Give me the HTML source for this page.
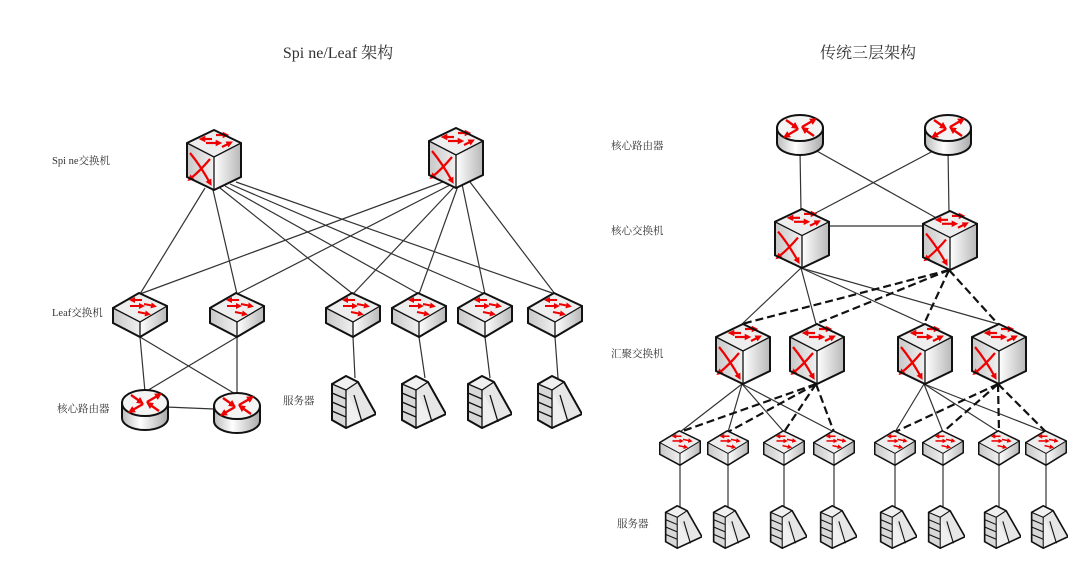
<!DOCTYPE html>
<html><head><meta charset="utf-8"><style>
html,body{margin:0;padding:0;background:#fff;}
svg{display:block;}
text{font-family:"Liberation Serif","Noto Serif CJK SC",serif;fill:#333;}
</style></head><body>
<svg width="1080" height="567" viewBox="0 0 1080 567" xmlns="http://www.w3.org/2000/svg">
<defs>
<linearGradient id="gr" x1="0" x2="1" y1="0" y2="0"><stop offset="0" stop-color="#fff"/><stop offset="1" stop-color="#b8b8b8"/></linearGradient>
<linearGradient id="gl" x1="0" x2="1" y1="0" y2="0"><stop offset="0" stop-color="#c8c8c8"/><stop offset="1" stop-color="#f0f0f0"/></linearGradient>
<linearGradient id="gc" x1="0" x2="1" y1="0" y2="0"><stop offset="0" stop-color="#bbb"/><stop offset="0.4" stop-color="#fff"/><stop offset="1" stop-color="#aaa"/></linearGradient>
<marker id="ah" viewBox="0 0 6 6" refX="3" refY="3" markerWidth="3" markerHeight="3" orient="auto"><path d="M0,0L6,3L0,6z" fill="#e00"/></marker>
<symbol id="cube" viewBox="0 0 56 62" preserveAspectRatio="none">
<polygon points="28,1 55,14 28,28 1,14" fill="#eee"/>
<polygon points="1,14 28,28 28,61 1,48" fill="url(#gl)"/>
<polygon points="28,28 55,14 55,48 28,61" fill="url(#gr)"/>
<g stroke="#e00" stroke-width="2.2" fill="none" marker-end="url(#ah)">
<line x1="26" y1="10" x2="16" y2="10"/><line x1="20" y1="14" x2="33" y2="14"/><line x1="30" y1="6" x2="40" y2="6"/><line x1="36" y1="18" x2="44" y2="14"/>
<path d="M4,24 Q14,36 24,54"/><path d="M24,30 Q14,42 4,50"/>
</g>
<polygon points="28,1 55,14 55,48 28,61 1,48 1,14" fill="none" stroke="#111" stroke-width="2"/>
<polyline points="1,14 28,28 55,14" fill="none" stroke="#111" stroke-width="1.3"/><line x1="28" y1="28" x2="28" y2="61" stroke="#111" stroke-width="1.3"/>
</symbol>
<symbol id="flat" viewBox="0 0 56 46" preserveAspectRatio="none">
<polygon points="27,1 55,14 28,30 1,16" fill="#eee"/>
<polygon points="1,16 28,30 28,45 1,31" fill="url(#gl)"/>
<polygon points="28,30 55,14 55,29 28,45" fill="url(#gr)"/>
<g stroke="#e00" stroke-width="2" fill="none" marker-end="url(#ah)">
<line x1="30" y1="8" x2="20" y2="8"/><line x1="18" y1="14" x2="30" y2="14"/><line x1="32" y1="12" x2="42" y2="14"/><line x1="26" y1="20" x2="36" y2="22"/>
</g>
<polygon points="27,1 55,14 55,29 28,45 1,31 1,16" fill="none" stroke="#111" stroke-width="2"/>
<polyline points="1,16 28,30 55,14" fill="none" stroke="#111" stroke-width="1.3"/><line x1="28" y1="30" x2="28" y2="45" stroke="#111" stroke-width="1.3"/>
</symbol>
<symbol id="router" viewBox="0 0 48 44" preserveAspectRatio="none">
<path d="M1,15 L1,30 A23,12 0 0 0 47,30 L47,15 Z" fill="url(#gc)" stroke="#111" stroke-width="2"/>
<ellipse cx="24" cy="15" rx="23" ry="13" fill="#f4f4f4" stroke="#111" stroke-width="2"/>
<g stroke="#e00" stroke-width="2.4" fill="none" marker-end="url(#ah)">
<line x1="10" y1="7" x2="20" y2="14"/><line x1="38" y1="23" x2="28" y2="16"/><line x1="26" y1="14" x2="38" y2="7"/><line x1="22" y1="16" x2="10" y2="23"/>
</g>
</symbol>
<symbol id="server" viewBox="0 0 46 54" preserveAspectRatio="none">
<polygon points="2,9 16,1 28,7 46,39 16,53 2,45" fill="#f0f0f0"/>
<polygon points="16,15 28,7 46,39 32,47" fill="#e6e6e6"/>
<polygon points="2,9 16,15 16,53 2,45" fill="#d8d8d8"/>
<g stroke="#111" stroke-width="1.3" fill="none">
<line x1="2" y1="18" x2="16" y2="24"/><line x1="2" y1="27" x2="16" y2="33"/><line x1="2" y1="36" x2="16" y2="42"/>
<polyline points="2,9 16,15 28,7"/><line x1="16" y1="15" x2="16" y2="53"/><line x1="24" y1="20" x2="32" y2="47"/>
</g>
<polygon points="2,9 16,1 28,7 46,39 16,53 2,45" fill="none" stroke="#111" stroke-width="2"/>
</symbol>
</defs>

<text x="338" y="58" font-size="16" text-anchor="middle">Spi ne/Leaf 架构</text>
<text x="868" y="58" font-size="16" text-anchor="middle">传统三层架构</text>
<g font-size="10.5">
<text x="52" y="164">Spi ne交换机</text>
<text x="52" y="316">Leaf交换机</text>
<text x="57" y="412">核心路由器</text>
<text x="283" y="404">服务器</text>
<text x="611" y="149">核心路由器</text>
<text x="611" y="234">核心交换机</text>
<text x="611" y="357">汇聚交换机</text>
<text x="617" y="527">服务器</text>
</g>

<g stroke="#333" stroke-width="1.2" fill="none">
<line x1="205" y1="188" x2="140" y2="294"/><line x1="213" y1="190" x2="237" y2="294"/>
<line x1="220" y1="188" x2="353" y2="294"/><line x1="225" y1="186" x2="419" y2="294"/>
<line x1="230" y1="184" x2="485" y2="294"/><line x1="236" y1="182" x2="555" y2="294"/>
<line x1="448" y1="180" x2="140" y2="294"/><line x1="452" y1="184" x2="237" y2="294"/>
<line x1="455" y1="186" x2="353" y2="294"/><line x1="458" y1="186" x2="419" y2="294"/>
<line x1="462" y1="184" x2="485" y2="294"/><line x1="470" y1="182" x2="555" y2="294"/>
<line x1="140" y1="337" x2="145" y2="392"/><line x1="140" y1="337" x2="237" y2="395"/>
<line x1="237" y1="337" x2="145" y2="392"/><line x1="237" y1="337" x2="237" y2="395"/>
<line x1="166" y1="407" x2="214" y2="409"/>
<line x1="353" y1="337" x2="355" y2="378"/><line x1="419" y1="337" x2="425" y2="378"/>
<line x1="485" y1="337" x2="490" y2="378"/><line x1="555" y1="337" x2="558" y2="378"/>
<line x1="800" y1="150" x2="801" y2="212"/><line x1="948" y1="150" x2="949" y2="214"/>
<line x1="815" y1="150" x2="940" y2="220"/><line x1="935" y1="150" x2="810" y2="216"/>
<line x1="829" y1="226" x2="922" y2="226"/>
<line x1="801" y1="268" x2="742" y2="324"/><line x1="801" y1="268" x2="816" y2="324"/>
<line x1="801" y1="268" x2="924" y2="324"/><line x1="801" y1="268" x2="998" y2="324"/>
<line x1="742" y1="384" x2="680" y2="432"/><line x1="742" y1="384" x2="728" y2="432"/>
<line x1="742" y1="384" x2="784" y2="432"/><line x1="742" y1="384" x2="834" y2="432"/>
<line x1="924" y1="384" x2="895" y2="432"/><line x1="924" y1="384" x2="943" y2="432"/>
<line x1="924" y1="384" x2="999" y2="432"/><line x1="924" y1="384" x2="1046" y2="432"/>
<line x1="680" y1="465" x2="680" y2="508"/><line x1="728" y1="465" x2="728" y2="508"/>
<line x1="784" y1="465" x2="784" y2="508"/><line x1="834" y1="465" x2="834" y2="508"/>
<line x1="895" y1="465" x2="895" y2="508"/><line x1="943" y1="465" x2="943" y2="508"/>
<line x1="999" y1="465" x2="999" y2="508"/><line x1="1046" y1="465" x2="1046" y2="508"/>
</g>
<g stroke="#111" stroke-width="2.2" stroke-dasharray="8,4" fill="none">
<line x1="949" y1="270" x2="742" y2="324"/><line x1="949" y1="270" x2="816" y2="324"/>
<line x1="949" y1="270" x2="924" y2="324"/><line x1="949" y1="270" x2="998" y2="324"/>
<line x1="816" y1="384" x2="680" y2="432"/><line x1="816" y1="384" x2="728" y2="432"/>
<line x1="816" y1="384" x2="784" y2="432"/><line x1="816" y1="384" x2="834" y2="432"/>
<line x1="998" y1="384" x2="895" y2="432"/><line x1="998" y1="384" x2="943" y2="432"/>
<line x1="998" y1="384" x2="999" y2="432"/><line x1="998" y1="384" x2="1046" y2="432"/>
</g>

<use href="#cube" x="186" y="129" width="56" height="62"/>
<use href="#cube" x="428" y="127" width="56" height="62"/>
<use href="#flat" x="112" y="292" width="56" height="46"/>
<use href="#flat" x="209" y="292" width="56" height="46"/>
<use href="#flat" x="325" y="292" width="56" height="46"/>
<use href="#flat" x="391" y="292" width="56" height="46"/>
<use href="#flat" x="457" y="292" width="56" height="46"/>
<use href="#flat" x="527" y="292" width="56" height="46"/>
<use href="#router" x="121" y="388" width="48" height="44"/>
<use href="#router" x="213" y="391" width="48" height="44"/>
<use href="#server" x="330" y="375" width="46" height="54"/>
<use href="#server" x="400" y="375" width="46" height="54"/>
<use href="#server" x="466" y="375" width="46" height="54"/>
<use href="#server" x="536" y="375" width="46" height="54"/>

<use href="#router" x="776" y="113" width="48" height="44"/>
<use href="#router" x="924" y="113" width="48" height="44"/>
<use href="#cube" x="774" y="208" width="56" height="61"/>
<use href="#cube" x="922" y="210" width="56" height="61"/>
<use href="#cube" x="715" y="323" width="56" height="62"/>
<use href="#cube" x="789" y="323" width="56" height="62"/>
<use href="#cube" x="897" y="323" width="56" height="62"/>
<use href="#cube" x="971" y="323" width="56" height="62"/>
<use href="#flat" x="659" y="430" width="42" height="36"/>
<use href="#flat" x="707" y="430" width="42" height="36"/>
<use href="#flat" x="763" y="430" width="42" height="36"/>
<use href="#flat" x="813" y="430" width="42" height="36"/>
<use href="#flat" x="874" y="430" width="42" height="36"/>
<use href="#flat" x="922" y="430" width="42" height="36"/>
<use href="#flat" x="978" y="430" width="42" height="36"/>
<use href="#flat" x="1025" y="430" width="42" height="36"/>
<use href="#server" x="664" y="505" width="38" height="44"/>
<use href="#server" x="712" y="505" width="38" height="44"/>
<use href="#server" x="769" y="505" width="38" height="44"/>
<use href="#server" x="819" y="505" width="38" height="44"/>
<use href="#server" x="879" y="505" width="38" height="44"/>
<use href="#server" x="927" y="505" width="38" height="44"/>
<use href="#server" x="983" y="505" width="38" height="44"/>
<use href="#server" x="1030" y="505" width="38" height="44"/>
</svg>
</body></html>
